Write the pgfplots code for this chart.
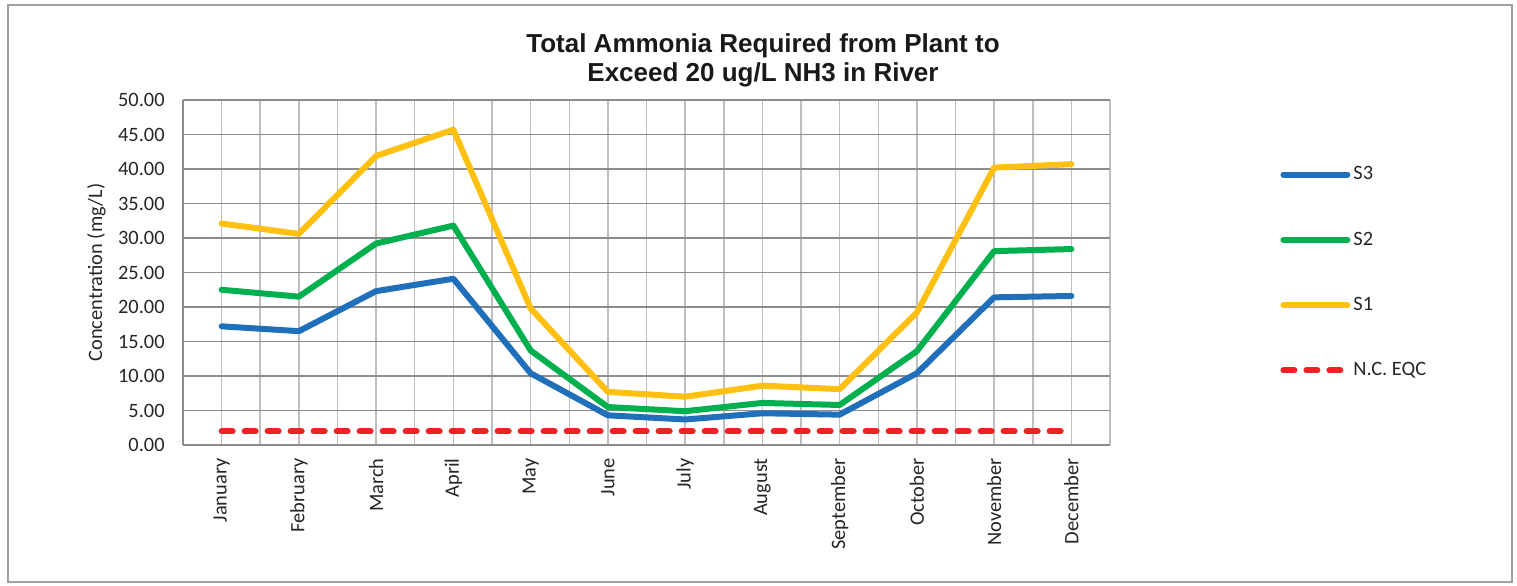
\documentclass[border=0pt]{standalone}
\usepackage{fontspec}
\setmainfont{Carlito}
\newfontfamily\titlefont{Liberation Sans}
\usepackage{pgfplots}
\pgfplotsset{compat=1.18}

\definecolor{sthree}{HTML}{1F6FBA}
\definecolor{stwo}{HTML}{00B04F}
\definecolor{sone}{HTML}{FFC012}
\definecolor{eqc}{HTML}{EC2227}
\definecolor{hgrid}{HTML}{8C8C8C}
\definecolor{vgrid}{HTML}{BFBFBF}
\definecolor{framegray}{HTML}{A0A0A0}

\begin{document}
\begin{tikzpicture}
\useasboundingbox (-91.5pt,-70pt) rectangle (667pt,222.5pt);
\draw[framegray, line width=0.75pt] (-87.5pt,-68.5pt) rectangle (664.5pt,220pt);

\begin{axis}[
  at={(0,0)}, anchor=south west,
  scale only axis, width=463.5pt, height=172.5pt,
  xmin=-0.5, xmax=11.5, ymin=0, ymax=50,
  xtick={0,...,11},
  xticklabels={January,February,March,April,May,June,July,August,September,October,November,December},
  minor xtick={-0.5,0.5,...,11.5},
  ytick={0,5,...,50},
  xmajorgrids, xminorgrids, ymajorgrids,
  major grid style={vgrid, line width=0.75pt},
  minor grid style={vgrid, line width=0.75pt},
  y grid style={hgrid, line width=0.75pt},
  major tick length=0pt, minor tick length=0pt,
  axis x line*=bottom, axis y line*=left,
  axis line style={draw=hgrid, line width=0.75pt, -},
  tick label style={font=\fontsize{10.2}{12}\selectfont, text=black!85},
  xticklabel style={rotate=90, anchor=east, inner xsep=6.5pt},
  yticklabel style={anchor=east, inner xsep=0pt, xshift=-9pt},
  /pgf/number format/.cd, fixed, fixed zerofill, precision=2, assume math mode=true,
  /pgfplots/.cd,
  ylabel={Concentration (mg/L)},
  ylabel style={at={(axis description cs:-0.0933,0.5)}, anchor=center,
    font=\fontsize{10.2}{12}\selectfont, text=black!85},
  legend style={at={(axis description cs:1.1834,0.5)}, anchor=west,
    draw=none, fill=none, row sep=21.5pt, inner sep=0pt,
    font=\fontsize{10.2}{12}\selectfont, text=black!85,
    nodes={inner sep=1.5pt}},
  legend cell align=left,
  legend image code/.code={\draw (1.5pt,0pt) -- (33.5pt,0pt);},
  every axis plot/.append style={line width=3pt, line join=round, line cap=round},
]
\addplot[sthree] coordinates {
  (0,17.2) (1,16.5) (2,22.3) (3,24.1) (4,10.4) (5,4.3)
  (6,3.7) (7,4.6) (8,4.4) (9,10.4) (10,21.4) (11,21.6)
};
\addplot[stwo] coordinates {
  (0,22.5) (1,21.5) (2,29.2) (3,31.8) (4,13.7) (5,5.5)
  (6,4.9) (7,6.1) (8,5.8) (9,13.6) (10,28.1) (11,28.4)
};
\addplot[sone] coordinates {
  (0,32.1) (1,30.6) (2,41.9) (3,45.7) (4,19.8) (5,7.7)
  (6,7.0) (7,8.6) (8,8.1) (9,19.2) (10,40.2) (11,40.7)
};
\addplot[eqc, dash pattern=on 5.5pt off 6pt] coordinates {
  (0,2) (1,2) (2,2) (3,2) (4,2) (5,2)
  (6,2) (7,2) (8,2) (9,2) (10,2) (11,2)
};
\legend{S3,S2,S1,N.C. EQC}
\end{axis}

\node[font=\titlefont\bfseries\fontsize{13}{14.5}\selectfont, align=center, text=black!90]
  at (290pt,192.25pt) {Total Ammonia Required from Plant to\\Exceed 20 ug/L NH3 in River};
\end{tikzpicture}
\end{document}
